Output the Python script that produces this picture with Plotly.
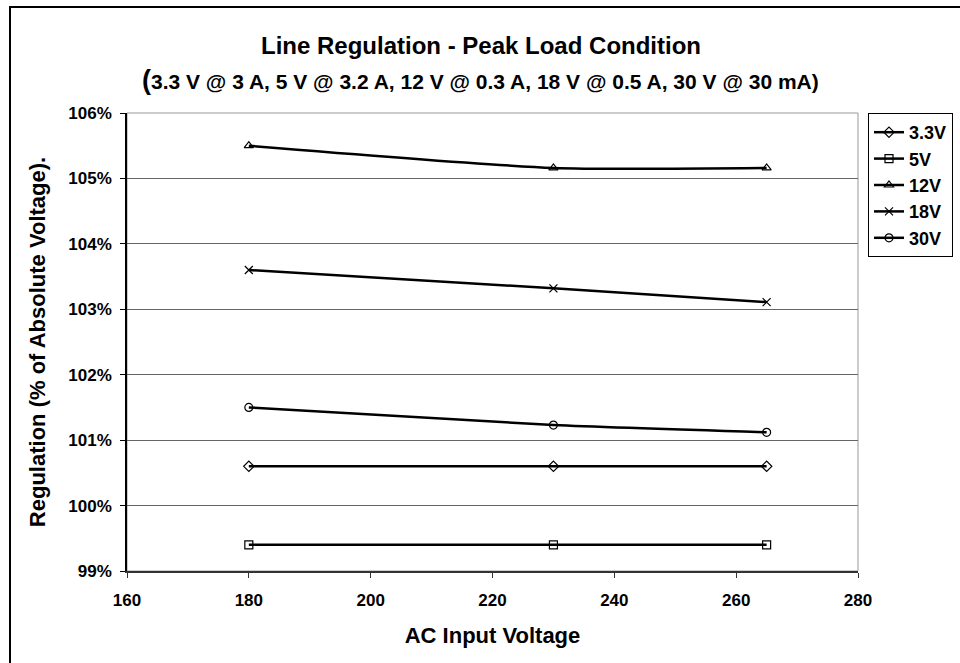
import plotly.graph_objects as go

x_vals = [180, 230, 265]
series_names = ["3.3V", "5V", "12V", "18V", "30V"]
v33 = [1.006, 1.006, 1.006]
v5 = [0.994, 0.994, 0.994]
v12 = [1.055, 1.0516, 1.0516]
v18 = [1.036, 1.0332, 1.0311]
v30 = [1.015, 1.0123, 1.0112]
series_values = [v33, v5, v12, v18, v30]
markers = ["diamond-open", "square-open", "triangle-up-open", "x-thin-open", "circle-open"]

y_ticks = [0.99, 1.00, 1.01, 1.02, 1.03, 1.04, 1.05, 1.06]
y_tick_labels = ["99%", "100%", "101%", "102%", "103%", "104%", "105%", "106%"]
x_ticks = [160, 180, 200, 220, 240, 260, 280]
x_tick_labels = ["160", "180", "200", "220", "240", "260", "280"]

FONT = "Liberation Sans, Arial, sans-serif"

fig = go.Figure()
for name, vals, m in zip(series_names, series_values, markers):
    fig.add_trace(go.Scatter(
        x=x_vals, y=vals, name=name, mode="lines+markers",
        line=dict(color="black", width=2.5, shape="spline", smoothing=0.6),
        marker=dict(symbol=m, size=8, color="black", line=dict(color="black", width=1.2)),
    ))

L, R, T, B = 127, 102, 113, 92
W, H = 960, 663
pw = W - L - R
ph = H - T - B

fig.update_layout(
    width=W, height=H,
    margin=dict(l=L, r=R, t=T, b=B, autoexpand=False),
    paper_bgcolor="white", plot_bgcolor="white",
    font=dict(family=FONT, color="black"),
    showlegend=True,
    legend=dict(
        x=(868 - L) / pw, y=1.0, xanchor="left", yanchor="top",
        bordercolor="black", borderwidth=1, bgcolor="white",
        font=dict(family=FONT, size=18, color="black", weight="bold"),
        tracegroupgap=0, itemwidth=30,
    ),
    xaxis=dict(
        range=[160, 280], tickvals=x_ticks, ticktext=["<b>%s</b>" % t for t in x_tick_labels],
        showgrid=False, zeroline=False, automargin=False,
        showline=True, linecolor="#333", linewidth=1.5, mirror=False,
        ticks="outside", ticklen=5, tickcolor="#333", ticklabelstandoff=8,
        tickfont=dict(family=FONT, size=17, color="black"),
        title=dict(text="AC Input Voltage", font=dict(family=FONT, size=22, weight="bold"), standoff=18),
    ),
    yaxis=dict(
        range=[0.99, 1.06], tickvals=y_ticks, ticktext=["<b>%s</b>" % t for t in y_tick_labels],
        showgrid=True, gridcolor="#666", gridwidth=1, zeroline=False, automargin=False,
        showline=True, linecolor="black", linewidth=1.5,
        ticks="outside", ticklen=5, tickcolor="black", ticklabelstandoff=5,
        tickfont=dict(family=FONT, size=17, color="black"),
        title=dict(text="Regulation (% of Absolute Voltage).", font=dict(family=FONT, size=22, weight="bold"), standoff=17),
    ),
)

# plot area border (gray)
fig.add_shape(type="rect", xref="paper", yref="paper", x0=0, x1=1, y0=0, y1=1,
              line=dict(color="#999", width=1), layer="below")

# outer chart border
fig.add_shape(type="rect", xref="paper", yref="paper",
              x0=(10 - L) / pw, x1=(975 - L) / pw,
              y0=(H - 675 - B) / ph, y1=(H - 7 - B) / ph,
              line=dict(color="black", width=2))

fig.add_annotation(xref="paper", yref="paper", x=(481 - L) / pw, y=(H - 45 - B) / ph,
                   text="Line Regulation - Peak Load Condition", showarrow=False,
                   xanchor="center", yanchor="middle",
                   font=dict(family=FONT, size=24, weight="bold", color="black"))
fig.add_annotation(xref="paper", yref="paper", x=(480 - L) / pw, y=(H - 80 - B) / ph,
                   text="<span style='font-size:27px'>(</span>3.3 V @ 3 A, 5 V @ 3.2 A, 12 V @ 0.3 A, 18 V @ 0.5 A, 30 V @ 30 mA)",
                   showarrow=False, xanchor="center", yanchor="middle",
                   font=dict(family=FONT, size=21, weight="bold", color="black"))

fig.write_html("out.html", config={"displayModeBar": False},
               post_script="document.body.style.margin='0';")
